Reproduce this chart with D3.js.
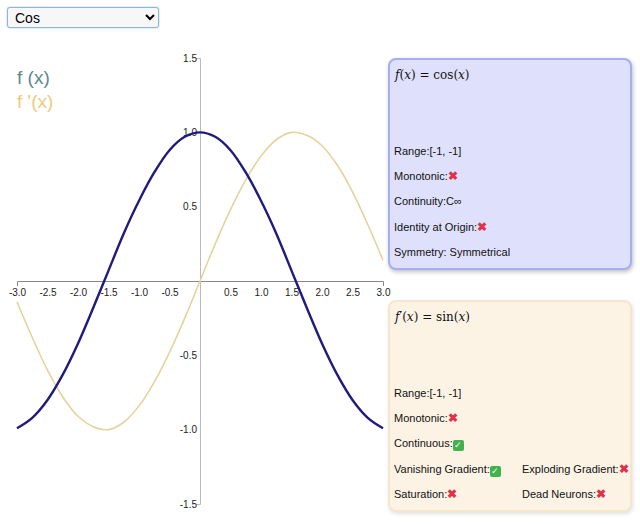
<!DOCTYPE html>
<html>
<head>
<meta charset="utf-8">
<script src="https://cdn.jsdelivr.net/npm/d3@7"></script>
<style>
  body { margin: 0; background: #fff; font-family: "Liberation Sans", Arial, sans-serif; }
  #wrap { position: relative; width: 640px; height: 524px; overflow: hidden; }
  #chart { position: absolute; left: 0; top: 0; }
  select {
    position: absolute; left: 7px; top: 7px; width: 152px; height: 21px;
    font-size: 14px; font-family: "Liberation Sans", Arial, sans-serif;
    border: 1px solid #8fb3d9; border-radius: 3px; background: #f7f7f7;
    box-shadow: 0 0 2px #9cc3ea; padding-left: 3px;
  }
  .panel {
    position: absolute; left: 388px; width: 240px; height: 208px;
    border-radius: 8px; font-size: 11px; color: #111;
  }
  #p1 { top: 58px; background: #dfe0fb; border: 2px solid #a7aeef; box-shadow: 1px 2px 4px rgba(0,0,0,0.25); }
  #p2 { top: 300px; background: #fdf3e5; border: 2px solid #f6e6cc; box-shadow: 1px 2px 4px rgba(0,0,0,0.12); }
  .row { position: absolute; white-space: nowrap; height: 14px; line-height: 14px; }
  .formula { font-family: "DejaVu Serif", "Liberation Serif", serif; font-size: 12px; }
  .formula i { font-style: italic; }
  .no { color: #e0304a; font-weight: bold; font-size: 12px; line-height: 14px; }
  .yes { display: inline-block; width: 11px; height: 11px; background: #3fb24c; color: #fff;
         font-size: 9px; line-height: 11px; text-align: center; border-radius: 2px; vertical-align: -1px; }
</style>
</head>
<body>
<div id="wrap">
  <svg id="chart" width="640" height="524"></svg>
  <select><option>Cos</option><option>Sin</option><option>Tanh</option></select>
  <div class="panel" id="p1"></div>
  <div class="panel" id="p2"></div>
</div>
<script>
var xs = [-3.0, -2.75, -2.5, -2.25, -2.0, -1.75, -1.5, -1.25, -1.0, -0.75, -0.5, -0.25, 0,
          0.25, 0.5, 0.75, 1.0, 1.25, 1.5, 1.75, 2.0, 2.25, 2.5, 2.75, 3.0];
var fx = [-0.99, -0.92, -0.80, -0.63, -0.42, -0.18, 0.07, 0.32, 0.54, 0.73, 0.88, 0.97, 1.0,
          0.97, 0.88, 0.73, 0.54, 0.32, 0.07, -0.18, -0.42, -0.63, -0.80, -0.92, -0.99];
var dfx = [-0.14, -0.38, -0.60, -0.78, -0.91, -0.98, -1.0, -0.95, -0.84, -0.68, -0.48, -0.25, 0,
           0.25, 0.48, 0.68, 0.84, 0.95, 1.0, 0.98, 0.91, 0.78, 0.60, 0.38, 0.14];
var xTicks = [-3.0, -2.5, -2.0, -1.5, -1.0, -0.5, 0.5, 1.0, 1.5, 2.0, 2.5, 3.0];
var yTicks = [-1.5, -1.0, -0.5, 0.5, 1.0, 1.5];
var legendLabels = ["f (x)", "f '(x)"];

var fProps = [["Range:[-1, -1]"], ["Monotonic:", "no"], ["Continuity:C\u221e"],
              ["Identity at Origin:", "no"], ["Symmetry: Symmetrical"]];
var dProps = [["Range:[-1, -1]"], ["Monotonic:", "no"], ["Continuous:", "yes"],
              ["Vanishing Gradient:", "yes", "Exploding Gradient:", "no"],
              ["Saturation:", "no", "Dead Neurons:", "no"]];

var svg = d3.select("#chart");

x = d3.scaleLinear().domain([-3, 3]).range([17, 383]);
y = d3.scaleLinear().domain([-1.5, 1.5]).range([504, 58]);

svg.append("g")
    .attr("transform", "translate(0," + y(0) + ")")
    .call(d3.axisBottom(x).tickValues(xTicks).tickFormat(d => d.toFixed(1))
          .tickSizeInner(0).tickSizeOuter(5).tickPadding(8))
    .call(g => g.select(".domain").attr("stroke", "#888"))
    .call(g => g.selectAll("text").attr("fill", "#222").style("font-size", "10px")
          .style("font-family", "Liberation Sans, Arial, sans-serif"));

svg.append("g")
    .attr("transform", "translate(" + x(0) + ",0)")
    .call(d3.axisLeft(y).tickValues(yTicks).tickFormat(d => d.toFixed(1))
          .tickSizeInner(0).tickSizeOuter(4).tickPadding(3))
    .call(g => g.select(".domain").attr("stroke", "#bbb"))
    .call(g => g.selectAll("text").attr("fill", "#222").style("font-size", "10px")
          .style("font-family", "Liberation Sans, Arial, sans-serif"));

line = function(vals) {
    return d3.line()
        .x((d, i) => x(xs[i]))
        .y((d) => y(d))
        .curve(d3.curveCatmullRom)(vals);
};

svg.append("path").attr("d", line(dfx))
    .attr("fill", "none").attr("stroke", "#e4d39c").attr("stroke-width", 1.6);
svg.append("path").attr("d", line(fx))
    .attr("fill", "none").attr("stroke", "#1f1b7d").attr("stroke-width", 2.4);

svg.selectAll("text.legend")
    .data(legendLabels)
    .enter().append("text")
        .attr("class", "legend")
        .attr("x", 17)
        .attr("y", (d, i) => 84 + i * 24)
        .attr("fill", (d, i) => i == 0 ? "#5e8890" : "#eccb7e")
        .style("font-size", "19px")
        .style("font-family", "Liberation Sans, Arial, sans-serif")
        .text(d => d);

function mark(kind) {
    return kind == "no" ? '<span class="no">\u2716</span>' : '<span class="yes">\u2713</span>';
}

function fill(id, formula, props) {
    var p = d3.select(id);
    p.append("div").attr("class", "row formula").style("left", "5px").style("top", "8px").html(formula);
    props.forEach(function(r, i) {
        var top = 84 + i * 25.2;
        p.append("div").attr("class", "row").style("left", "4px").style("top", top + "px")
            .html(r[0] + (r[1] ? mark(r[1]) : ""));
        if (r[2]) {
            p.append("div").attr("class", "row").style("left", "132px").style("top", top + "px")
                .html(r[2] + mark(r[3]));
        }
    });
}

fill("#p1", "<i>f</i>(<i>x</i>) = cos(<i>x</i>)", fProps);
fill("#p2", "<i>f</i>\u2032(<i>x</i>) = sin(<i>x</i>)", dProps);
</script>
</body>
</html>
